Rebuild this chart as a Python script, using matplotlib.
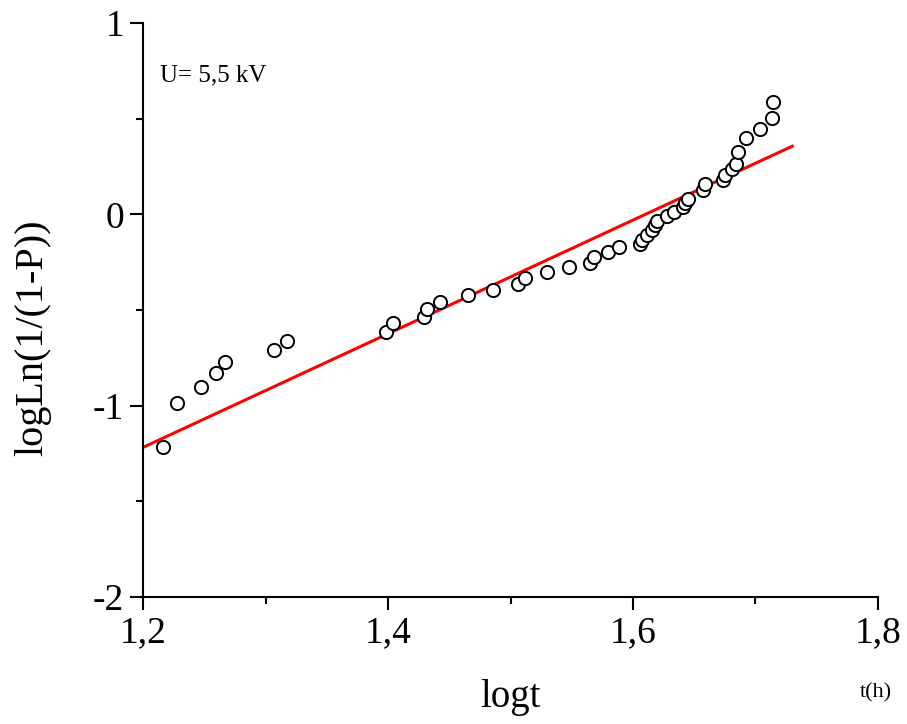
import numpy as np
import matplotlib
matplotlib.use("Agg")
import matplotlib.pyplot as plt
from matplotlib.ticker import MultipleLocator, FuncFormatter

plt.rcParams['font.family'] = ['Liberation Serif', 'DejaVu Serif']

# measured points: log t vs log ln(1/(1-P))
logt = [1.2163, 1.2278, 1.2473, 1.2596, 1.2669, 1.3069, 1.3176, 1.3984, 1.4041,
        1.4294, 1.4318, 1.4424, 1.4653, 1.4857, 1.5061, 1.5118, 1.5298, 1.5478,
        1.5649, 1.5682, 1.5796, 1.5886, 1.6057, 1.6071, 1.6117, 1.6153, 1.6180,
        1.6194, 1.6275, 1.6335, 1.6406, 1.6424, 1.6452, 1.6574, 1.6588, 1.6737,
        1.6751, 1.6805, 1.6841, 1.6860, 1.6922, 1.7037, 1.7132, 1.7140]
loglnp = [-1.218, -0.988, -0.904, -0.831, -0.774, -0.711, -0.664, -0.617, -0.570,
          -0.538, -0.497, -0.460, -0.423, -0.397, -0.366, -0.335, -0.303, -0.277,
          -0.256, -0.225, -0.199, -0.172, -0.157, -0.132, -0.110, -0.084, -0.058,
          -0.035, -0.009, 0.012, 0.038, 0.059, 0.082, 0.125, 0.157, 0.181,
          0.204, 0.239, 0.261, 0.326, 0.401, 0.448, 0.503, 0.587]

# linear fit
fit_slope = 2.97
fit_intercept = -4.782
fit_x = [1.2, 1.73]

fig = plt.figure(figsize=(9.07, 7.24), dpi=100)
ax = fig.add_axes([0.1577, 0.1754, 0.8103, 0.7928])

xf = np.array(fit_x)
ax.plot(xf, fit_intercept + fit_slope * xf, "-", color='red', linewidth=2.2, zorder=2)
ax.plot(logt, loglnp, "o", markersize=9.5, markerfacecolor='white',
        markeredgecolor='black', markeredgewidth=1.4, zorder=3)

ax.set_xlim(1.2, 1.8)
ax.set_ylim(-2, 1)
ax.xaxis.set_major_locator(MultipleLocator(0.2))
ax.xaxis.set_minor_locator(MultipleLocator(0.1))
ax.yaxis.set_major_locator(MultipleLocator(1))
ax.yaxis.set_minor_locator(MultipleLocator(0.5))
ax.xaxis.set_major_formatter(FuncFormatter(lambda v, p: ("%.1f" % v).replace(".", ",")))
ax.yaxis.set_major_formatter(FuncFormatter(lambda v, p: "%d" % round(v)))

for s in ['top', 'right']:
    ax.spines[s].set_visible(False)
for s in ['left', 'bottom']:
    ax.spines[s].set_linewidth(1.5)

ax.tick_params(which='major', direction='out', length=9.5, width=1.5, labelsize=27, pad=4)
ax.tick_params(which='minor', direction='out', length=5, width=1.5)

ax.set_xlabel("logt", fontsize=28, labelpad=21)
ax.set_ylabel("logLn(1/(1-P))", fontsize=29, labelpad=12)
ax.yaxis.set_label_coords(-0.125, 0.452)
ax.text(0.023, 0.909, "U= 5,5 kV", transform=ax.transAxes, fontsize=18, va='center')
fig.text(0.966, 0.037, "t(h)", fontsize=16, ha='center')

fig.savefig("out.png", dpi=100)
